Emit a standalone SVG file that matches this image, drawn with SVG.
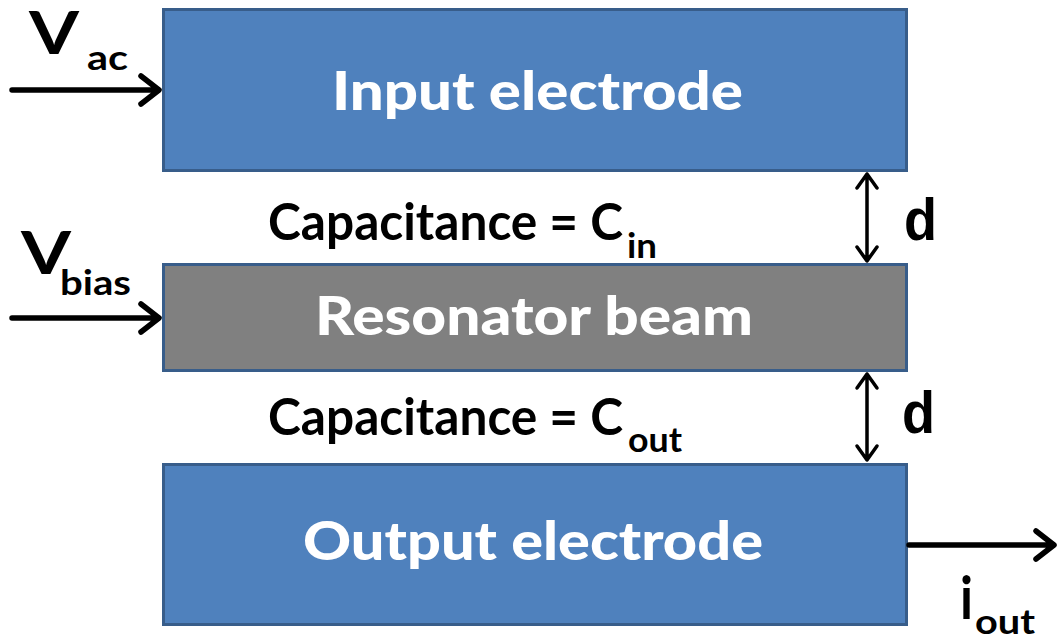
<svg xmlns="http://www.w3.org/2000/svg" width="1058" height="641" viewBox="0 0 1058 641">
<style>
.box{stroke:#385D8A;stroke-width:3}
.blue{fill:#4F81BD}
.gray{fill:#808080}
.t{font-family:Lato,"Open Sans","Liberation Sans",sans-serif;font-weight:bold}
.w{fill:#ffffff;font-size:54px;font-weight:900}
.k{fill:#000000}
.big{font-size:51px}
.sub{font-size:35px}
.d{font-family:"Liberation Sans",Arial,sans-serif;font-weight:bold;font-size:60px;fill:#000}
.ln{stroke:#000;fill:none;stroke-linecap:round;stroke-linejoin:round}
.thick{stroke-width:5.5}
.thin{stroke-width:3.5}
</style>
<rect width="1058" height="641" fill="#ffffff"/>
<g id="input-electrode">
<rect class="box blue" x="163.5" y="9.5" width="743" height="161"/>
<text class="t w" x="332" y="110" textLength="411" lengthAdjust="spacingAndGlyphs">Input electrode</text>
</g>
<g id="resonator-beam">
<rect class="box gray" x="163.5" y="264.5" width="743" height="106"/>
<text class="t w" x="315" y="335" textLength="438" lengthAdjust="spacingAndGlyphs">Resonator beam</text>
</g>
<g id="output-electrode">
<rect class="box blue" x="163.5" y="464.5" width="743" height="160"/>
<text class="t w" x="303" y="560" textLength="460" lengthAdjust="spacingAndGlyphs">Output electrode</text>
</g>
<g id="labels">
<text class="t k big" x="268" y="240" textLength="355" lengthAdjust="spacingAndGlyphs">Capacitance = C</text>
<text class="t k sub" x="627" y="258" textLength="30" lengthAdjust="spacingAndGlyphs">in</text>
<text class="t k big" x="268" y="435" textLength="355" lengthAdjust="spacingAndGlyphs">Capacitance = C</text>
<text class="t k sub" x="628" y="452" textLength="54" lengthAdjust="spacingAndGlyphs">out</text>
<text class="d" x="904" y="240" textLength="33" lengthAdjust="spacingAndGlyphs">d</text>
<text class="d" x="902" y="433" textLength="33" lengthAdjust="spacingAndGlyphs">d</text>
<text class="t k" style="font-size:60px" x="29" y="54" textLength="50" lengthAdjust="spacingAndGlyphs">V</text>
<text class="t k sub" x="87" y="70" textLength="41" lengthAdjust="spacingAndGlyphs">ac</text>
<text class="t k" style="font-size:60px" x="21" y="274" textLength="50" lengthAdjust="spacingAndGlyphs">V</text>
<text class="t k sub" x="60" y="295" textLength="71" lengthAdjust="spacingAndGlyphs">bias</text>
<text class="t k" style="font-size:60px" x="960" y="619" textLength="13" lengthAdjust="spacingAndGlyphs">i</text>
<text class="t k sub" x="975" y="634" textLength="60" lengthAdjust="spacingAndGlyphs">out</text>
</g>
<g id="connectors">
<path class="ln thick" d="M12 90 H158 M141 76 L159 90 L141 104"/>
<path class="ln thick" d="M12 318 H158 M141 304 L159 318 L141 332"/>
<path class="ln thick" d="M909 545 H1052 M1036 531 L1054 545 L1036 559"/>
<path class="ln thin" d="M867 174 V261 M857 188 L867 174 L877 188 M857 247 L867 261 L877 247"/>
<path class="ln thin" d="M867 374 V460 M857 388 L867 374 L877 388 M857 446 L867 460 L877 446"/>
</g>
</svg>
